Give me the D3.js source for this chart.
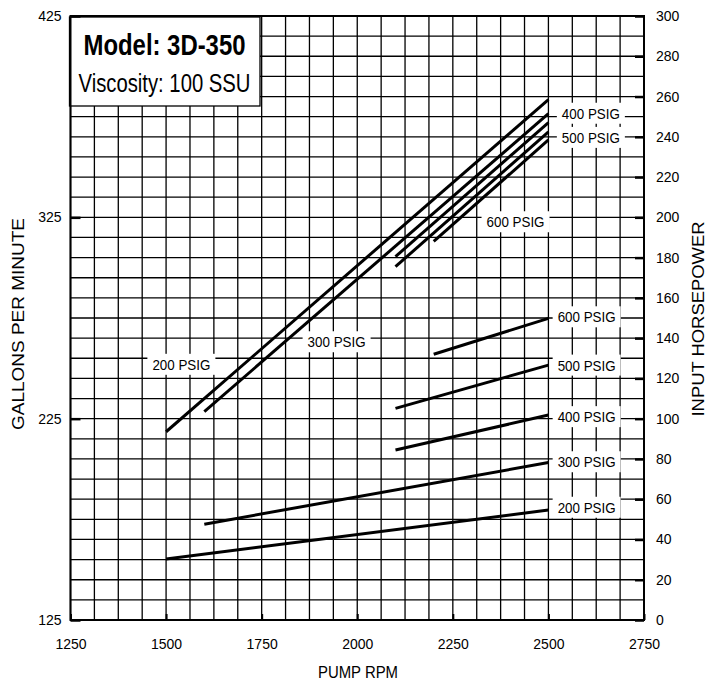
<!DOCTYPE html>
<html>
<head>
<meta charset="utf-8">
<script src="https://cdn.jsdelivr.net/npm/d3@7"></script>
<style>
  html, body { margin: 0; padding: 0; background: #fff; }
  svg { display: block; font-family: "Liberation Sans", Arial, Helvetica, sans-serif; }
</style>
</head>
<body>
<svg id="chart" width="722" height="686"></svg>
<script>
// ---- data ----
const pressures = ["200 PSIG", "300 PSIG", "400 PSIG", "500 PSIG", "600 PSIG"];
// flow curves (left axis, gallons per minute)
const gpmRpm    = [[1500, 2500], [1600, 2500], [2100, 2500], [2100, 2500], [2200, 2500]];
const gpmValues = [[218.5, 383.5], [228.5, 376.5], [305.5, 372], [300.5, 367.5], [313, 363.5]];
// power curves (right axis, input horsepower)
const hpRpm    = [[1500, 2500], [1600, 2500], [2100, 2500], [2100, 2500], [2200, 2500]];
const hpValues = [[30.3, 54.6], [47.6, 78.2], [84.4, 101.8], [105.1, 126.6], [132, 149.8]];
// tick labels
const xTicks = [1250, 1500, 1750, 2000, 2250, 2500, 2750];
const gpmTicks = [125, 225, 325, 425];
const hpTicks = [0, 20, 40, 60, 80, 100, 120, 140, 160, 180, 200, 220, 240, 260, 280, 300];
// label anchors (data units)
const gpmLabelRpm = [1540, 1946, 2611, 2611, 2414];
const gpmLabelVal = [252, 263.2, 376.7, 364.7, 322.8];
const hpLabelRpm = [2600, 2600, 2600, 2600, 2600];
const hpLabelVal = [56, 78.6, 101, 126.6, 150.6];

// ---- layout ----
const L = 70.5, R = 644, T = 16, B = 620;
const svg = d3.select("#chart");
const x = d3.scaleLinear().domain([1250, 2750]).range([L, R]);
const yL = d3.scaleLinear().domain([125, 425]).range([B, T]);
const yR = d3.scaleLinear().domain([0, 300]).range([B, T]);

// grid
const grid = svg.append("g").attr("stroke", "#000").attr("stroke-width", 1.3);
grid.selectAll("line.v").data(d3.range(1250, 2750.1, 62.5)).join("line")
  .attr("x1", d => x(d)).attr("x2", d => x(d)).attr("y1", T).attr("y2", B);
grid.selectAll("line.h").data(d3.range(0, 300.1, 10)).join("line")
  .attr("x1", L).attr("x2", R).attr("y1", d => yR(d)).attr("y2", d => yR(d));

// data lines
const lineG = svg.append("g").attr("stroke", "#000").attr("stroke-width", 3).attr("fill", "none")
  .attr("stroke-linecap", "butt");
const lineL = d3.line().x(d => x(d[0])).y(d => yL(d[1]));
const lineRr = d3.line().x(d => x(d[0])).y(d => yR(d[1]));
pressures.forEach((p, i) => {
  lineG.append("path").attr("d", lineL(gpmRpm[i].map((r, j) => [r, gpmValues[i][j]])));
  lineG.append("path").attr("d", lineRr(hpRpm[i].map((r, j) => [r, hpValues[i][j]])));
});

// labels with white boxes
function psigLabel(cx, cy, txt) {
  const w = 58;
  svg.append("rect").attr("x", cx - w / 2 - 5).attr("y", cy - 10.5)
    .attr("width", w + 10).attr("height", 21).attr("fill", "#fff");
  svg.append("text").attr("x", cx).attr("y", cy).attr("dy", "0.36em")
    .attr("text-anchor", "middle").attr("font-size", 15)
    .attr("textLength", w).attr("lengthAdjust", "spacingAndGlyphs")
    .text(txt);
}
pressures.forEach((p, i) => {
  psigLabel(x(gpmLabelRpm[i]), yL(gpmLabelVal[i]), p);
  psigLabel(x(hpLabelRpm[i]), yR(hpLabelVal[i]), p);
});

// title box
svg.append("rect").attr("x", 69.5).attr("y", 17).attr("width", 190.5).attr("height", 89)
  .attr("fill", "#fff").attr("stroke", "#000").attr("stroke-width", 1.3);
svg.append("text").attr("x", 164.5).attr("y", 55).attr("text-anchor", "middle")
  .attr("font-size", 30).attr("font-weight", "bold")
  .attr("textLength", 162).attr("lengthAdjust", "spacingAndGlyphs").text("Model: 3D-350");
svg.append("text").attr("x", 164.5).attr("y", 92).attr("text-anchor", "middle")
  .attr("font-size", 25)
  .attr("textLength", 172).attr("lengthAdjust", "spacingAndGlyphs").text("Viscosity: 100 SSU");

// border
svg.append("rect").attr("x", L).attr("y", T).attr("width", R - L).attr("height", B - T)
  .attr("fill", "none").attr("stroke", "#000").attr("stroke-width", 2);

// axes
function styleAxis(g, tw) {
  g.select(".domain").remove();
  g.selectAll(".tick line").attr("stroke", "#000").attr("stroke-width", tw);
  g.selectAll(".tick text").attr("fill", "#000").attr("font-size", 14)
    .attr("font-family", "'Liberation Sans', Arial, sans-serif");
}
const ax = svg.append("g").attr("transform", `translate(0,${B})`)
  .call(d3.axisBottom(x).tickValues(xTicks).tickSizeInner(-6).tickSizeOuter(0).tickPadding(19).tickFormat(d3.format("d")));
styleAxis(ax, 2);
const al = svg.append("g").attr("transform", `translate(${L},0)`)
  .call(d3.axisLeft(yL).tickValues(gpmTicks).tickSizeInner(-10).tickSizeOuter(0).tickPadding(9).tickFormat(d3.format("d")));
styleAxis(al, 2.5);
const ar = svg.append("g").attr("transform", `translate(${R},0)`)
  .call(d3.axisRight(yR).tickValues(hpTicks).tickSizeInner(-9).tickSizeOuter(0).tickPadding(12).tickFormat(d3.format("d")));
styleAxis(ar, 2.5);

// axis titles
svg.append("text").attr("transform", "translate(24,324) rotate(-90)").attr("text-anchor", "middle")
  .attr("font-size", 17).attr("textLength", 212).attr("lengthAdjust", "spacingAndGlyphs")
  .text("GALLONS PER MINUTE");
svg.append("text").attr("transform", "translate(704,319) rotate(-90)").attr("text-anchor", "middle")
  .attr("font-size", 16).attr("textLength", 195).attr("lengthAdjust", "spacingAndGlyphs")
  .text("INPUT HORSEPOWER");
svg.append("text").attr("x", 358).attr("y", 678).attr("text-anchor", "middle")
  .attr("font-size", 16).attr("textLength", 80).attr("lengthAdjust", "spacingAndGlyphs")
  .text("PUMP RPM");
</script>
</body>
</html>
